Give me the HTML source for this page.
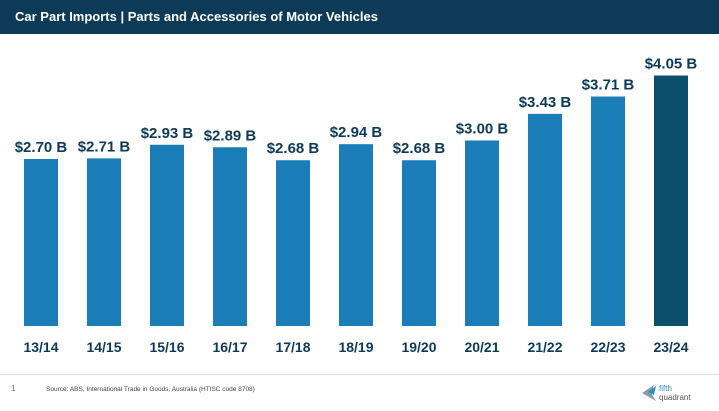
<!DOCTYPE html>
<html><head><meta charset="utf-8"><style>
body{margin:0;width:719px;height:411px;background:#fff;overflow:hidden;font-family:"Liberation Sans",sans-serif;position:relative}
#hdr{position:absolute;left:0;top:0;width:719px;height:34px;background:#0d3a57;color:#fff;font-weight:bold;font-size:13px;line-height:34px;padding-left:15px;box-sizing:border-box}
#rule{position:absolute;left:0;top:374px;width:719px;height:1px;background:#dcdcdc}
#pg{position:absolute;left:11px;top:384px;font-size:8px;color:#666}
#src{position:absolute;left:46px;top:386px;font-size:6.5px;color:#444}
#logo{position:absolute;left:640px;top:381px;width:70px;height:22px}
</style></head><body>
<div id="hdr">Car Part Imports | Parts and Accessories of Motor Vehicles</div>
<svg id="chart" width="719" height="411" style="position:absolute;left:0;top:0"></svg>
<div id="rule"></div>
<div id="pg">1</div>
<div id="src">Source: ABS, International Trade in Goods, Australia (HTISC code 8708)</div>
<svg id="logo" viewBox="0 0 70 22">
<polygon points="2,12 14,4 11,12 16,20" fill="#8a9aa6"/><polygon points="8,11 16,5 14,14" fill="#2a8fc4"/>
<text x="19" y="10" font-size="8" fill="#2a8fc4" font-family="Liberation Sans">fifth</text>
<text x="19" y="19" font-size="8" fill="#555" font-family="Liberation Sans">quadrant</text>
</svg>
<script>
const categories=["13/14","14/15","15/16","16/17","17/18","18/19","19/20","20/21","21/22","22/23","23/24"];
const values=[2.70,2.71,2.93,2.89,2.68,2.94,2.68,3.00,3.43,3.71,4.05];
const labels=["$2.70 B","$2.71 B","$2.93 B","$2.89 B","$2.68 B","$2.94 B","$2.68 B","$3.00 B","$3.43 B","$3.71 B","$4.05 B"];
const svg=document.getElementById('chart');
const NS='http://www.w3.org/2000/svg';
const base=326, scale=61.85, x0=41, step=63, bw=34;
const xPos=i=>x0+i*step;
const yPos=v=>base-v*scale;
categories.forEach((c,i)=>{
  const r=document.createElementNS(NS,'rect');
  
  
  r.setAttribute('x',xPos(i)-bw/2);r.setAttribute('y',yPos(values[i]));
  r.setAttribute('width',bw);r.setAttribute('height',base-yPos(values[i]));
  r.setAttribute('fill',i===categories.length-1?'#0b4f6c':'#1a7db8');
  svg.appendChild(r);
  const t=document.createElementNS(NS,'text');
  
  
  t.setAttribute('x',xPos(i));t.setAttribute('y',yPos(values[i])-7);
  t.setAttribute('text-anchor','middle');t.setAttribute('font-size','15');t.setAttribute('font-weight','bold');t.setAttribute('fill','#0d3a57');
  t.textContent=labels[i];svg.appendChild(t);
  const l=document.createElementNS(NS,'text');
  
  
  l.setAttribute('x',xPos(i));l.setAttribute('y',352);
  l.setAttribute('text-anchor','middle');l.setAttribute('font-size','14');l.setAttribute('font-weight','bold');l.setAttribute('fill','#0d3a57');
  l.textContent=c;svg.appendChild(l);
});
</script>
</body></html>
